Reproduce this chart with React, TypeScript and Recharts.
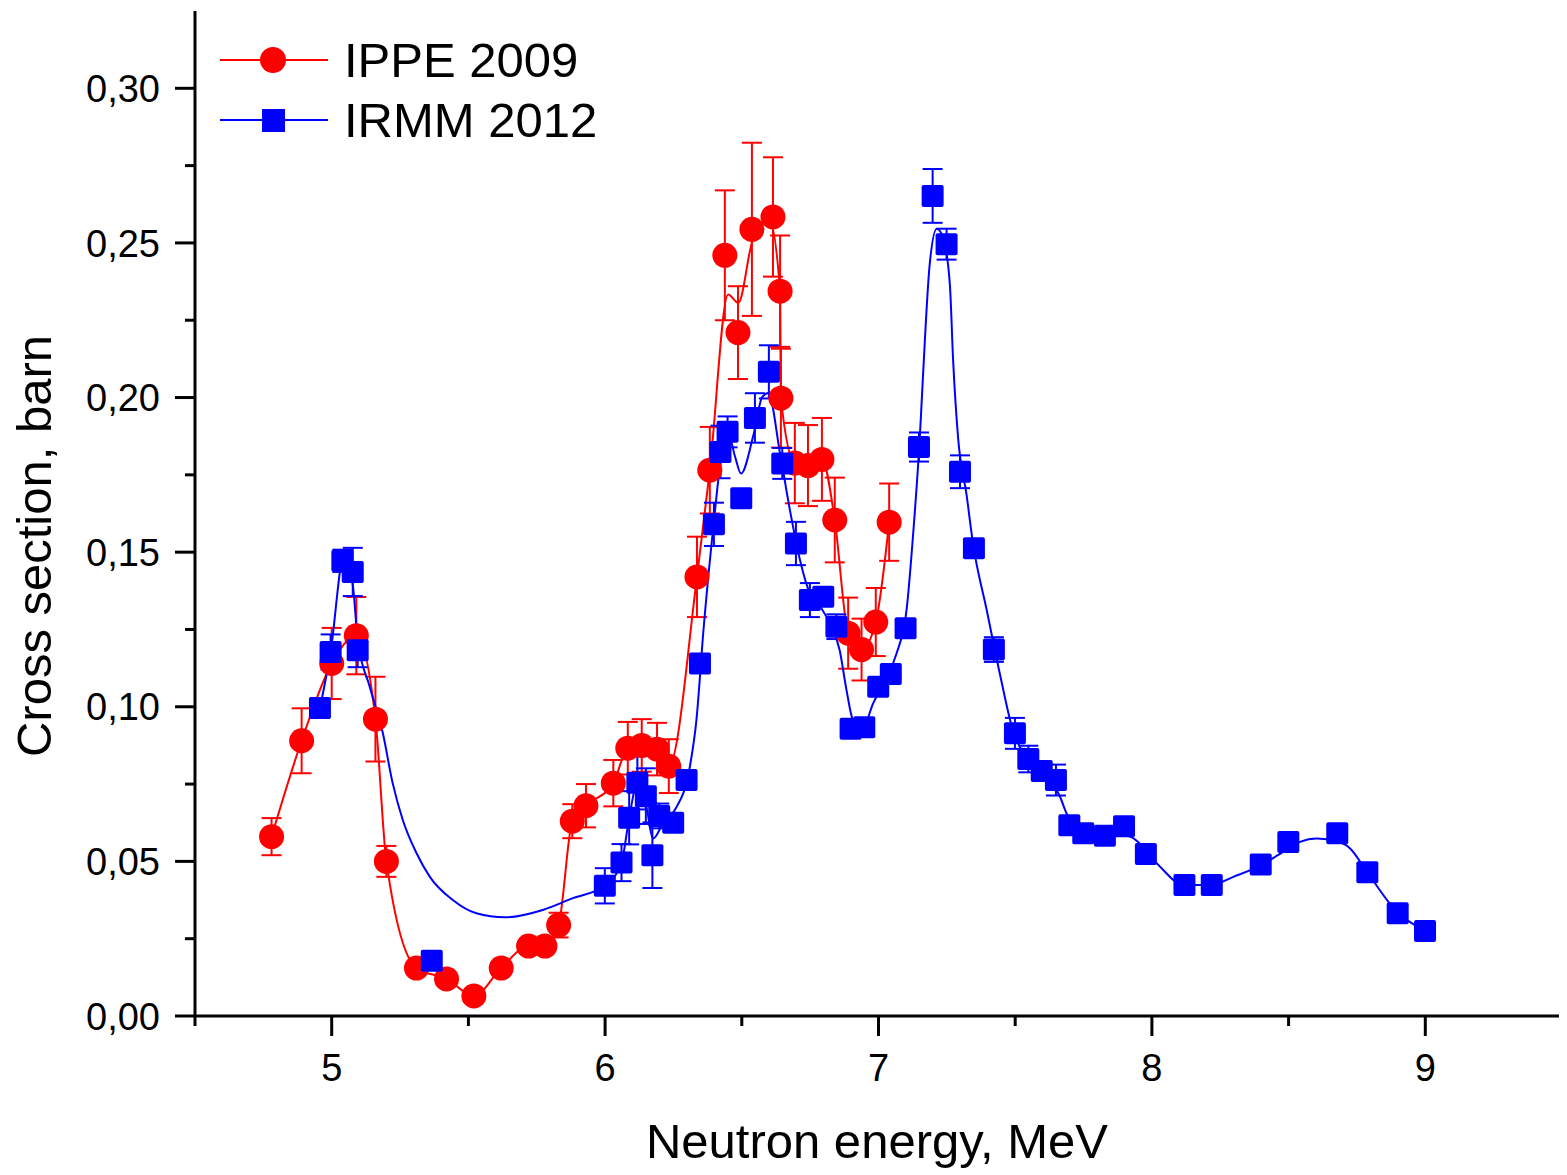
import { ComposedChart, Line, Scatter, ErrorBar, XAxis, YAxis, Label } from "recharts";

const RED = "#ff0000";
const BLUE = "#0000ff";
const FONT = "'Liberation Sans', Arial, sans-serif";

// IPPE 2009 measured points (MeV, barn, ± barn)
const ippeEnergy = [
  4.78, 4.89, 5.0, 5.09, 5.16, 5.2, 5.31, 5.42, 5.52, 5.62, 5.72, 5.78, 5.83, 5.88, 5.93, 6.03, 6.083, 6.134,
  6.19, 6.233, 6.336, 6.383, 6.438, 6.486, 6.537, 6.614, 6.64, 6.643, 6.694, 6.742, 6.793, 6.84, 6.889, 6.938,
  6.99, 7.039,
];
const ippeSigma = [
  0.058, 0.089, 0.114, 0.123, 0.096, 0.05, 0.0155, 0.012, 0.0065, 0.0155, 0.0226, 0.0226, 0.0294, 0.063, 0.068,
  0.0753, 0.0866, 0.0875, 0.0863, 0.0808, 0.142, 0.1765, 0.246, 0.221, 0.2544, 0.2584, 0.2344, 0.1998, 0.1788,
  0.178, 0.18, 0.1604, 0.1238, 0.1185, 0.1274, 0.1597,
];
const ippeErr = [
  0.006, 0.0105, 0.0115, 0.0125, 0.0137, 0.005, 0.002, 0.002, 0.002, 0.002, 0.002, 0.002, 0.004, 0.0055, 0.007,
  0.0075, 0.0085, 0.0085, 0.0085, 0.0087, 0.013, 0.014, 0.021, 0.015, 0.028, 0.0193, 0.018, 0.016, 0.013, 0.0131,
  0.0134, 0.0137, 0.0115, 0.01, 0.011, 0.0125,
];

// IRMM 2012 measured points
const irmmEnergy = [
  4.957, 4.996, 5.039, 5.077, 5.095, 5.366, 5.999, 6.06, 6.088, 6.118, 6.149, 6.173, 6.198, 6.249, 6.298, 6.347,
  6.398, 6.422, 6.448, 6.498, 6.548, 6.599, 6.648, 6.698, 6.749, 6.798, 6.846, 6.898, 6.948, 6.999, 7.045, 7.099,
  7.148, 7.198, 7.249, 7.298, 7.349, 7.422, 7.499, 7.548, 7.597, 7.649, 7.698, 7.749, 7.828, 7.898, 7.978, 8.119,
  8.219, 8.398, 8.499, 8.678, 8.788, 8.899, 8.999,
];
const irmmSigma = [
  0.0996, 0.1177, 0.1472, 0.1436, 0.1183, 0.0179, 0.0421, 0.0496, 0.0641, 0.0754, 0.0711, 0.052, 0.0647, 0.0625,
  0.0763, 0.114, 0.159, 0.1824, 0.1889, 0.1674, 0.1934, 0.2083, 0.1787, 0.1528, 0.1345, 0.1356, 0.1259, 0.0929,
  0.0934, 0.1065, 0.1106, 0.1254, 0.184, 0.2652, 0.2496, 0.176, 0.1513, 0.1185, 0.0914, 0.0831, 0.0792, 0.0763,
  0.0617, 0.0591, 0.0583, 0.0614, 0.0524, 0.0424, 0.0424, 0.049, 0.0563, 0.0591, 0.0465, 0.0332, 0.0275,
];
const irmmErr = [
  0.003, 0.0057, 0.0036, 0.0078, 0.0055, 0.002, 0.0057, 0.006, 0.0086, 0.0086, 0.009, 0.0106, 0.004, 0.003, 0.003,
  0.003, 0.007, 0.0085, 0.005, 0.003, 0.008, 0.0086, 0.005, 0.007, 0.0055, 0.003, 0.004, 0.002, 0.002, 0.003, 0.003,
  0.003, 0.0047, 0.0087, 0.005, 0.0053, 0.002, 0.004, 0.005, 0.0043, 0.003, 0.005, 0.002, 0.002, 0.002, 0.002,
  0.002, 0.002, 0.002, 0.002, 0.002, 0.002, 0.002, 0.002, 0.002,
];

// spline curves drawn through each data set
const ippeCurveE = [
  4.78, 4.89, 5.0, 5.09, 5.16, 5.2, 5.31, 5.42, 5.52, 5.62, 5.72, 5.78, 5.83, 5.88, 5.93, 6.03, 6.083, 6.134, 6.19,
  6.233, 6.336, 6.383, 6.45, 6.487, 6.54, 6.6, 6.64, 6.643, 6.694, 6.742, 6.793, 6.84, 6.889, 6.938, 6.99, 7.039,
];
const ippeCurveS = [
  0.058, 0.089, 0.114, 0.123, 0.096, 0.05, 0.0155, 0.012, 0.0065, 0.0155, 0.0226, 0.0226, 0.0294, 0.063, 0.068,
  0.0753, 0.0866, 0.0875, 0.0863, 0.0808, 0.142, 0.1765, 0.2333, 0.2306, 0.251, 0.2575, 0.2344, 0.1998, 0.1788,
  0.178, 0.18, 0.1604, 0.1238, 0.1185, 0.1274, 0.1597,
];
const irmmCurveE = [
  4.957, 4.996, 5.045, 5.078, 5.095, 5.139, 5.187, 5.223, 5.26, 5.31, 5.359, 5.443, 5.529, 5.633, 5.772, 5.882,
  5.999, 6.06, 6.088, 6.118, 6.15, 6.176, 6.21, 6.255, 6.31, 6.334, 6.36, 6.398, 6.425, 6.45, 6.475, 6.497, 6.541,
  6.575, 6.597, 6.64, 6.676, 6.713, 6.749, 6.79, 6.822, 6.858, 6.883, 6.907, 6.944, 6.98, 7.03, 7.066, 7.103, 7.127,
  7.151, 7.162, 7.187, 7.213, 7.235, 7.261, 7.273, 7.291, 7.322, 7.346, 7.395, 7.444, 7.493, 7.548, 7.597, 7.664,
  7.688, 7.749, 7.828, 7.92, 8.017, 8.116, 8.219, 8.298, 8.398, 8.48, 8.542, 8.603, 8.678, 8.725, 8.786, 8.896, 9.0,
];
const irmmCurveS = [
  0.0996, 0.1177, 0.149, 0.1388, 0.1216, 0.1065, 0.0915, 0.0753, 0.0634, 0.0527, 0.045, 0.0375, 0.0332, 0.0319,
  0.0343, 0.0381, 0.0421, 0.0496, 0.064, 0.0754, 0.068, 0.0574, 0.062, 0.0666, 0.0806, 0.0957, 0.125, 0.16, 0.181,
  0.1885, 0.181, 0.1754, 0.1873, 0.2002, 0.2015, 0.1819, 0.1636, 0.1474, 0.1366, 0.132, 0.1269, 0.1183, 0.1054,
  0.0957, 0.0935, 0.101, 0.1097, 0.1172, 0.1316, 0.1562, 0.187, 0.2057, 0.2428, 0.2546, 0.252, 0.2366, 0.2119,
  0.1871, 0.1686, 0.1526, 0.1316, 0.1106, 0.0919, 0.083, 0.079, 0.0709, 0.0655, 0.0595, 0.059, 0.058, 0.0494,
  0.0424, 0.0424, 0.045, 0.0487, 0.0531, 0.0563, 0.0574, 0.0565, 0.0542, 0.0467, 0.0337, 0.0275,
];

const xTicks = [4.5, 5, 5.5, 6, 6.5, 7, 7.5, 8, 8.5, 9, 9.5];
const yTicks = [0, 0.025, 0.05, 0.075, 0.1, 0.125, 0.15, 0.175, 0.2, 0.225, 0.25, 0.275, 0.3];

const ippe = ippeEnergy.map((x, i) => ({ x, y: ippeSigma[i], err: ippeErr[i] }));
const irmm = irmmEnergy.map((x, i) => ({ x, y: irmmSigma[i], err: irmmErr[i] }));
const ippeCurve = ippeCurveE.map((x, i) => ({ x, y: ippeCurveS[i] }));
const irmmCurve = irmmCurveE.map((x, i) => ({ x, y: irmmCurveS[i] }));

const YTick = ({ x, y, payload }: any) => {
  const major = Math.round(payload.value * 1000) % 50 === 0;
  return (
    <g>
      <line x1={x - (major ? 20 : 10)} x2={x} y1={y} y2={y} stroke="#000" strokeWidth={3} />
      {major && (
        <text x={x - 35} y={y} dy="0.36em" textAnchor="end" fontSize={38} fontFamily={FONT} fill="#000">
          {payload.value.toFixed(2).replace(".", ",")}
        </text>
      )}
    </g>
  );
};

const XTick = ({ x, y, payload }: any) => {
  const major = Number.isInteger(payload.value);
  return (
    <g>
      <line x1={x} x2={x} y1={y} y2={y + (major ? 20 : 10)} stroke="#000" strokeWidth={3} />
      {major && (
        <text x={x} y={y + 65} textAnchor="middle" fontSize={38} fontFamily={FONT} fill="#000">
          {payload.value}
        </text>
      )}
    </g>
  );
};

const Dot = ({ cx, cy }: any) => <circle cx={cx} cy={cy} r={12.5} fill={RED} />;
const Square = ({ cx, cy }: any) => <rect x={cx - 11} y={cy - 11} width={22} height={22} rx={2} fill={BLUE} />;

export default function App() {
  return (
    <div style={{ position: "relative", width: 1559, height: 1160 }}>
      <ComposedChart width={1559} height={1160} margin={{ top: 3, right: 5, bottom: 0, left: 0 }}>
        <XAxis
          type="number"
          dataKey="x"
          domain={[4.5, 9.5]}
          ticks={xTicks}
          interval={0}
          height={152}
          tickSize={0}
          tickMargin={0}
          tickLine={false}
          tick={<XTick />}
          axisLine={{ stroke: "#000", strokeWidth: 3 }}
          allowDataOverflow
        >
          <Label
            content={() => (
              <text x={869} y={1150} textAnchor="middle" fontSize={49} fontFamily={FONT} fill="#000">
                Neutron energy, MeV
              </text>
            )}
          />
        </XAxis>
        <YAxis
          type="number"
          dataKey="y"
          domain={[0, 0.325]}
          ticks={yTicks}
          interval={0}
          width={187}
          tickSize={0}
          tickMargin={0}
          tickLine={false}
          tick={<YTick />}
          axisLine={{ stroke: "#000", strokeWidth: 3 }}
          allowDataOverflow
        >
          <Label
            content={() => (
              <text
                x={43}
                y={538}
                transform="rotate(-90, 43, 538)"
                textAnchor="middle"
                fontSize={49}
                fontFamily={FONT}
                fill="#000"
              >
                Cross section, barn
              </text>
            )}
          />
        </YAxis>
        <Line
          data={ippeCurve}
          dataKey="y"
          type="monotone"
          stroke={RED}
          strokeWidth={2}
          dot={false}
          activeDot={false}
          isAnimationActive={false}
        />
        <Scatter data={ippe} dataKey="y" shape={<Dot />} isAnimationActive={false}>
          <ErrorBar dataKey="err" direction="y" width={10} stroke={RED} strokeWidth={2} />
        </Scatter>
        <Line
          data={irmmCurve}
          dataKey="y"
          type="monotone"
          stroke={BLUE}
          strokeWidth={2}
          dot={false}
          activeDot={false}
          isAnimationActive={false}
        />
        <Scatter data={irmm} dataKey="y" shape={<Square />} isAnimationActive={false}>
          <ErrorBar dataKey="err" direction="y" width={10} stroke={BLUE} strokeWidth={2} />
        </Scatter>
      </ComposedChart>

      {/* title (cut off at the top edge, as in the original) and legend, in page coordinates */}
      <svg
        width={1567}
        height={1175}
        style={{ position: "absolute", left: -8, top: -8, pointerEvents: "none" }}
      >
        <text
          x={614}
          y={6}
          fontSize={82}
          fontFamily="'Liberation Serif', 'Times New Roman', serif"
          fontWeight="bold"
          fontStyle="italic"
          fill="#ff3300"
        >
          2012 data
        </text>
        <line x1={220} x2={328} y1={60} y2={60} stroke={RED} strokeWidth={2} />
        <circle cx={273} cy={60} r={13} fill={RED} />
        <text x={344} y={77} fontSize={49} fontFamily={FONT} fill="#000">
          IPPE 2009
        </text>
        <line x1={220} x2={328} y1={120} y2={120} stroke={BLUE} strokeWidth={2} />
        <rect x={262} y={109} width={23} height={23} fill={BLUE} />
        <text x={344} y={137} fontSize={49} fontFamily={FONT} fill="#000">
          IRMM 2012
        </text>
      </svg>
    </div>
  );
}
